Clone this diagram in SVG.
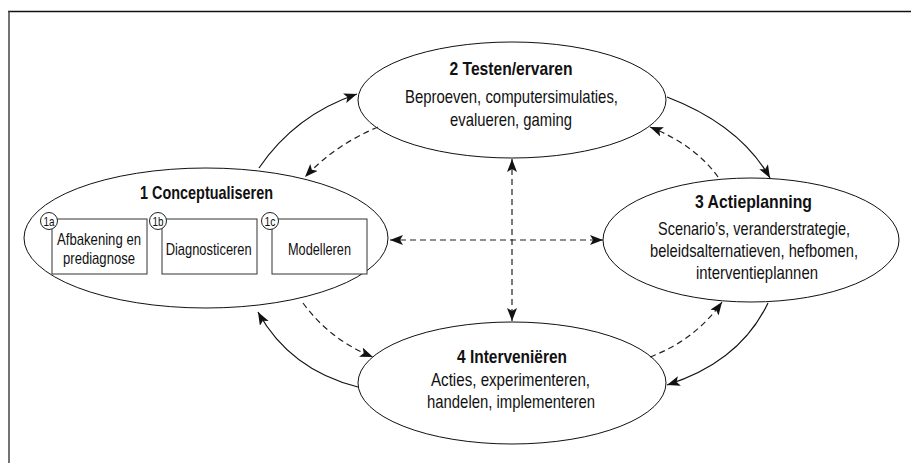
<svg xmlns="http://www.w3.org/2000/svg" width="911" height="463" viewBox="0 0 911 463">
<style>
text{font-family:"Liberation Sans",Arial,sans-serif;fill:#111;text-anchor:middle}
.t{font-size:19px;font-weight:bold}
.s{font-size:19px}
.b{font-size:17px}
.n{font-size:13px}
.el{fill:#fff;stroke:#111;stroke-width:1}
.box{fill:#fff;stroke:#333;stroke-width:1}
.cir{fill:#fff;stroke:#222;stroke-width:1}
.solid{fill:none;stroke:#111;stroke-width:1.2;marker-end:url(#ah)}
.dash{fill:none;stroke:#222;stroke-width:1.2;stroke-dasharray:6 4;marker-end:url(#ah)}
.dd{marker-start:url(#ah)}
</style>
<defs>
<marker id="ah" markerUnits="userSpaceOnUse" markerWidth="16" markerHeight="12" refX="13" refY="5" orient="auto-start-reverse">
<path d="M0,0 L13,5 L0,10 L3,5 z" fill="#111"/>
</marker>
</defs>
<rect width="911" height="463" fill="#fff"/>
<g id="frame">
<line x1="8" y1="11.5" x2="911" y2="11.5" stroke="#111" stroke-width="1.5"/>
<line x1="9" y1="11" x2="9" y2="463" stroke="#444" stroke-width="1.5"/>
</g>
<g id="node2">
<ellipse class="el" cx="512" cy="100" rx="154" ry="58"/>
<text class="t" x="511" y="75" textLength="123" lengthAdjust="spacingAndGlyphs">2 Testen/ervaren</text>
<text class="s" x="511.5" y="103" textLength="213" lengthAdjust="spacingAndGlyphs">Beproeven, computersimulaties,</text>
<text class="s" x="511" y="126" textLength="122" lengthAdjust="spacingAndGlyphs">evalueren, gaming</text>
</g>
<g id="node1">
<ellipse class="el" cx="206" cy="238" rx="182" ry="70"/>
<text class="t" x="206.5" y="199" textLength="133" lengthAdjust="spacingAndGlyphs">1 Conceptualiseren</text>
<g id="node1a">
<rect class="box" x="52" y="219" width="95" height="55"/>
<circle class="cir" cx="49" cy="221" r="8.5"/>
<text class="n" x="49" y="225.5" textLength="11" lengthAdjust="spacingAndGlyphs">1a</text>
<text class="b" x="99" y="245" textLength="84" lengthAdjust="spacingAndGlyphs">Afbakening en</text>
<text class="b" x="99" y="264" textLength="72" lengthAdjust="spacingAndGlyphs">prediagnose</text>
</g>
<g id="node1b">
<rect class="box" x="162" y="219" width="95" height="55"/>
<circle class="cir" cx="158" cy="221" r="8.5"/>
<text class="n" x="158" y="225.5" textLength="11" lengthAdjust="spacingAndGlyphs">1b</text>
<text class="b" x="208.7" y="255" textLength="86" lengthAdjust="spacingAndGlyphs">Diagnosticeren</text>
</g>
<g id="node1c">
<rect class="box" x="272" y="219" width="95" height="55"/>
<circle class="cir" cx="270" cy="221" r="8.5"/>
<text class="n" x="270" y="225.5" textLength="11" lengthAdjust="spacingAndGlyphs">1c</text>
<text class="b" x="319.5" y="255" textLength="63" lengthAdjust="spacingAndGlyphs">Modelleren</text>
</g>
</g>
<g id="node3">
<ellipse class="el" cx="751" cy="240" rx="148" ry="62"/>
<text class="t" x="753.5" y="208" textLength="117" lengthAdjust="spacingAndGlyphs">3 Actieplanning</text>
<text class="s" x="754" y="235" textLength="192" lengthAdjust="spacingAndGlyphs">Scenario’s, veranderstrategie,</text>
<text class="s" x="754" y="257" textLength="208" lengthAdjust="spacingAndGlyphs">beleidsalternatieven, hefbomen,</text>
<text class="s" x="757" y="279" textLength="122" lengthAdjust="spacingAndGlyphs">interventieplannen</text>
</g>
<g id="node4">
<ellipse class="el" cx="512" cy="383" rx="154" ry="61"/>
<text class="t" x="512" y="363" textLength="110" lengthAdjust="spacingAndGlyphs">4 Interveniëren</text>
<text class="s" x="510.5" y="386" textLength="159" lengthAdjust="spacingAndGlyphs">Acties, experimenteren,</text>
<text class="s" x="511" y="408" textLength="168" lengthAdjust="spacingAndGlyphs">handelen, implementeren</text>
</g>
<g id="connectors">
<path class="solid" d="M259,168 Q295,115 357,94"/>
<path class="solid" d="M667,97 Q740,125 770,178"/>
<path class="solid" d="M768,303 Q740,362 667,385"/>
<path class="solid" d="M358,387 Q290,370 258,312"/>
<path class="dash" d="M378,127 Q335,145 305,177"/>
<path class="dash" d="M718,177 Q695,145 650,127"/>
<path class="dash" d="M303,303 Q330,340 373,357"/>
<path class="dash" d="M650,357 Q695,340 722,302"/>
<path class="dash dd" d="M512,159 L512,321"/>
<path class="dash dd" d="M390,240 L603,240"/>
</g>
</svg>
